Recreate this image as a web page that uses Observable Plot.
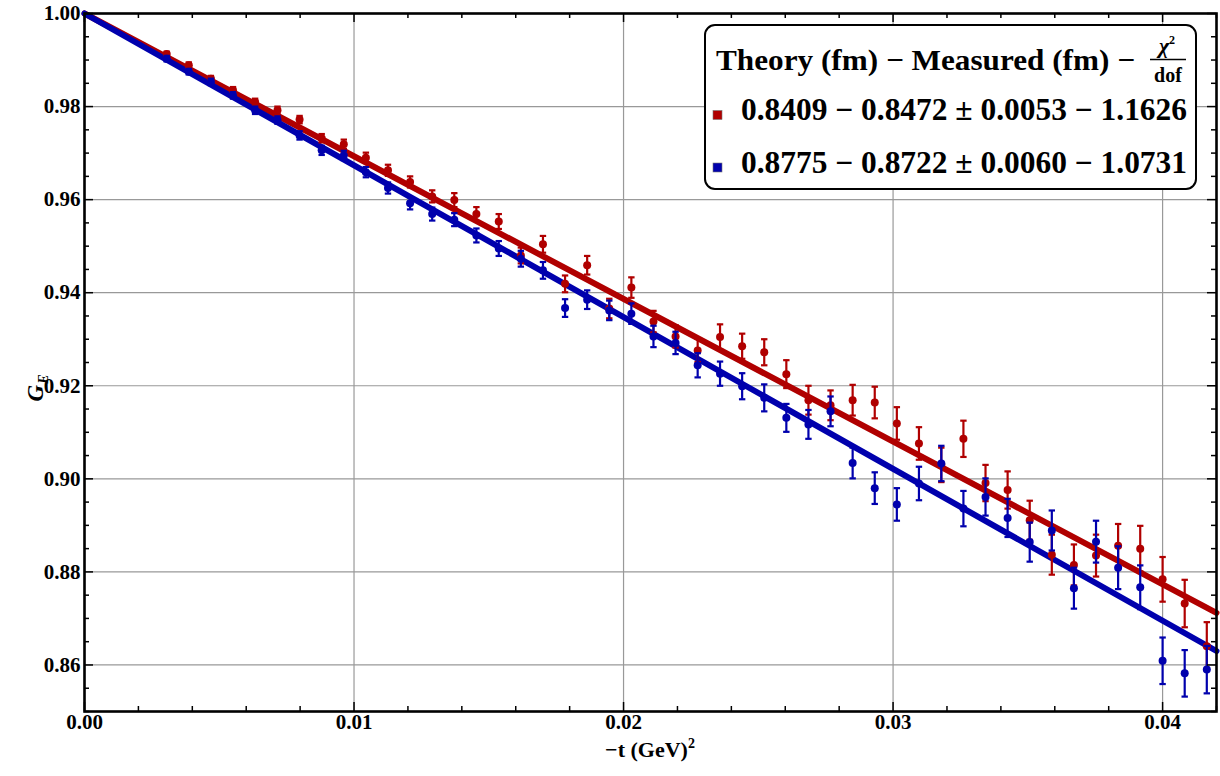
<!DOCTYPE html>
<html><head><meta charset="utf-8">
<script src="https://cdn.jsdelivr.net/npm/d3@7"></script>
<script src="https://cdn.jsdelivr.net/npm/@observablehq/plot@0.6"></script>
<style>
body{margin:0;background:#fff;}
#wrap{position:relative;width:1220px;height:776px;font-family:"Liberation Serif","Times New Roman",serif;font-weight:bold;}
#wrap svg{display:block;}
</style></head><body><div id="wrap"></div>
<script>
// -t (GeV^2)
const tValues = [0.00305,0.00387,0.00469,0.00551,0.00633,0.00716,0.00798,
  0.00880,0.00962,0.01044,0.01126,0.01208,0.01290,0.01372,0.01454,0.01537,0.01619,
  0.01701,0.01783,0.01865,0.01947,0.02029,0.02111,0.02193,0.02275,0.02358,0.02440,
  0.02522,0.02604,0.02686,0.02768,0.02850,0.02932,0.03014,0.03096,0.03179,0.03261,
  0.03343,0.03425,0.03507,0.03589,0.03671,0.03753,0.03835,0.03917,0.04000,0.04082,0.04164];
const redGE = [0.9913,0.9889,0.9860,0.9835,0.9810,0.9792,0.9772,
  0.9732,0.9719,0.9690,0.9663,0.9638,0.9607,0.9599,0.9569,0.9553,0.9480,
  0.9504,0.9419,0.9459,0.9366,0.9411,0.9338,0.9306,0.9276,0.9305,0.9285,
  0.9272,0.9225,0.9169,0.9158,0.9169,0.9164,0.9119,0.9076,0.9030,0.9086,
  0.8991,0.8976,0.8911,0.8837,0.8815,0.8835,0.8856,0.8850,0.8784,0.8732,0.8640];
const redErr = [0.0005,0.0006,0.0006,0.0007,0.0007,0.0008,0.0008,
  0.0009,0.0010,0.0011,0.0012,0.0012,0.0013,0.0015,0.0015,0.0016,0.0017,
  0.0018,0.0018,0.0020,0.0021,0.0022,0.0023,0.0024,0.0025,0.0027,0.0027,
  0.0028,0.0030,0.0031,0.0032,0.0033,0.0034,0.0035,0.0035,0.0037,0.0039,
  0.0039,0.0040,0.0042,0.0043,0.0044,0.0045,0.0047,0.0049,0.0048,0.0051,0.0052];
const blueGE = [0.9903,0.9875,0.9853,0.9824,0.9792,0.9771,0.9738,
  0.9706,0.9695,0.9659,0.9625,0.9592,0.9569,0.9557,0.9523,0.9495,0.9473,
  0.9448,0.9367,0.9385,0.9362,0.9355,0.9306,0.9292,0.9244,0.9226,0.9199,
  0.9174,0.9131,0.9117,0.9145,0.9034,0.8980,0.8945,0.8990,0.9033,0.8936,
  0.8961,0.8916,0.8864,0.8889,0.8765,0.8865,0.8809,0.8767,0.8609,0.8582,0.8590];
const blueErr = [0.0006,0.0006,0.0007,0.0007,0.0008,0.0008,0.0009,
  0.0010,0.0010,0.0011,0.0012,0.0013,0.0014,0.0014,0.0015,0.0016,0.0017,
  0.0018,0.0019,0.0020,0.0021,0.0022,0.0023,0.0024,0.0026,0.0026,0.0028,
  0.0029,0.0030,0.0031,0.0032,0.0033,0.0034,0.0035,0.0036,0.0038,0.0038,
  0.0040,0.0041,0.0042,0.0043,0.0044,0.0045,0.0046,0.0047,0.0050,0.0050,0.0051];
// fit lines (endpoints)
const fitT = [0, 0.042];
const redFit = [1.0, 0.8712];
const blueFit = [1.0, 0.8630];
// ticks
const xMajor = [0, 0.01, 0.02, 0.03, 0.04];
const xMinor = [0.002,0.004,0.006,0.008,0.012,0.014,0.016,0.018,0.022,0.024,0.026,0.028,0.032,0.034,0.036,0.038,0.042];
const yMajor = [0.86, 0.88, 0.90, 0.92, 0.94, 0.96, 0.98, 1.00];
const yMinor = [0.85,0.855,0.865,0.87,0.875,0.885,0.89,0.895,0.905,0.91,0.915,0.925,0.93,0.935,0.945,0.95,0.955,0.965,0.97,0.975,0.985,0.99,0.995];
// legend
const theoryR = ["0.8409", "0.8775"];
const measuredR = ["0.8472", "0.8722"];
const measuredErr = ["0.0053", "0.0060"];
const chi2dof = ["1.1626", "1.0731"];

const RED = "#b00000", BLUE = "#0000ad";
const series = [
  {ge: redGE, err: redErr, color: RED},
  {ge: blueGE, err: blueErr, color: BLUE}
].map(s => ({...s, data: tValues.map((t, i) => ({t, g: s.ge[i], e: s.err[i]}))}));
const fits = [
  {color: RED, data: fitT.map((t, i) => ({t, g: redFit[i]}))},
  {color: BLUE, data: fitT.map((t, i) => ({t, g: blueFit[i]}))}
];

const capSymbol = {draw(ctx, size) { const r = Math.sqrt(size / Math.PI); ctx.moveTo(-r, 0); ctx.lineTo(r, 0); }};

const W = 1220, H = 776, mL = 84, mR = 4, mT = 13, mB = 65;
const innerH = H - mT - mB, innerW = W - mL - mR;

const marks = [
  Plot.gridX(xMajor, {stroke: "#999", strokeOpacity: 1, strokeWidth: 1.2}),
  Plot.gridY(yMajor, {stroke: "#999", strokeOpacity: 1, strokeWidth: 1.2}),
  ...fits.map(f => Plot.line(f.data, {x: "t", y: "g", stroke: f.color, strokeWidth: 6})),
];
for (const s of series) {
  marks.push(
    Plot.ruleX(s.data, {x: "t", y1: d => d.g - d.e, y2: d => d.g + d.e, stroke: s.color, strokeWidth: 2.2}),
    Plot.dot(s.data, {x: "t", y: d => d.g + d.e, symbol: capSymbol, r: 3.2, stroke: s.color, strokeWidth: 2.2, fill: "none"}),
    Plot.dot(s.data, {x: "t", y: d => d.g - d.e, symbol: capSymbol, r: 3.2, stroke: s.color, strokeWidth: 2.2, fill: "none"}),
    Plot.dot(s.data, {x: "t", y: "g", r: 4, fill: s.color, stroke: "none"})
  );
}
marks.push(
  // inward ticks on all four sides
  Plot.tickX(xMajor, {x: d => d, insetTop: innerH - 9, stroke: "black", strokeWidth: 1.5}),
  Plot.tickX(xMinor, {x: d => d, insetTop: innerH - 5, stroke: "black", strokeWidth: 1.5}),
  Plot.tickX(xMajor, {x: d => d, insetBottom: innerH - 9, stroke: "black", strokeWidth: 1.5}),
  Plot.tickX(xMinor, {x: d => d, insetBottom: innerH - 5, stroke: "black", strokeWidth: 1.5}),
  Plot.tickY(yMajor, {y: d => d, insetRight: innerW - 9, stroke: "black", strokeWidth: 1.5}),
  Plot.tickY(yMinor, {y: d => d, insetRight: innerW - 5, stroke: "black", strokeWidth: 1.5}),
  Plot.tickY(yMajor, {y: d => d, insetLeft: innerW - 9, stroke: "black", strokeWidth: 1.5}),
  Plot.tickY(yMinor, {y: d => d, insetLeft: innerW - 5, stroke: "black", strokeWidth: 1.5}),
  Plot.frame({stroke: "black", strokeWidth: 2.6}),
  Plot.axisX(xMajor, {tickSize: 0, tickPadding: 3, tickFormat: d3.format(".2f"), label: null, fill: "black", fontSize: 21}),
  Plot.axisY(yMajor, {tickSize: 0, tickPadding: 4, tickFormat: d3.format(".2f"), label: null, fill: "black", fontSize: 21})
);

const chart = Plot.plot({
  width: W, height: H,
  marginLeft: mL, marginRight: mR, marginTop: mT, marginBottom: mB,
  x: {domain: [0, 0.042]},
  y: {domain: [0.85, 1.0]},
  style: {fontFamily: '"Liberation Serif", "Times New Roman", serif', fontWeight: "bold", fontSize: "21px", background: "#fff", color: "black", overflow: "visible"},
  marks
});
const wrap = document.getElementById("wrap");
wrap.appendChild(chart);

// overlay: axis labels and legend
const ov = d3.select(wrap).append("svg")
  .attr("width", W).attr("height", H)
  .style("position", "absolute").style("left", 0).style("top", 0)
  .style("font-family", '"Liberation Serif", "Times New Roman", serif').style("font-weight", "bold");

const xl = ov.append("text").attr("x", 650).attr("y", 757).attr("text-anchor", "middle").attr("font-size", 22);
xl.append("tspan").text("\u2212t (GeV)");
xl.append("tspan").attr("font-size", 14).attr("dy", -9).text("2");

const yl = ov.append("text").attr("transform", "translate(43,388) rotate(-90)").attr("text-anchor", "middle").attr("font-size", 23);
yl.append("tspan").attr("font-style", "italic").text("G");
yl.append("tspan").attr("font-size", 14).attr("font-style", "italic").attr("dx", 1).attr("dy", 5).text("E");

ov.append("rect").attr("x", 705).attr("y", 25).attr("width", 491).attr("height", 164).attr("rx", 10)
  .attr("fill", "#fff").attr("stroke", "#000").attr("stroke-width", 2);
ov.append("text").attr("x", 716).attr("y", 70).attr("font-size", 30)
  .attr("textLength", 419).attr("lengthAdjust", "spacingAndGlyphs")
  .text("Theory (fm) \u2212 Measured (fm) \u2212");
const chi = ov.append("text").attr("x", 1167).attr("y", 53).attr("text-anchor", "middle").attr("font-size", 22);
chi.append("tspan").attr("font-style", "italic").text("\u03c7");
chi.append("tspan").attr("font-size", 12).attr("dy", -9).text("2");
ov.append("line").attr("x1", 1150).attr("x2", 1186).attr("y1", 59.5).attr("y2", 59.5).attr("stroke", "#000").attr("stroke-width", 1.6);
ov.append("text").attr("x", 1168).attr("y", 82).attr("text-anchor", "middle").attr("font-size", 20).text("dof");

const rowY = [120, 172.5];
const rowColor = [RED, BLUE];
theoryR.forEach((th, i) => {
  ov.append("rect").attr("x", 713).attr("y", rowY[i] - 9.5).attr("width", 9).attr("height", 9)
    .attr("fill", rowColor[i]).attr("stroke", "#777").attr("stroke-width", 0.6);
  ov.append("text").attr("x", 741).attr("y", rowY[i]).attr("font-size", 31)
    .attr("textLength", 446).attr("lengthAdjust", "spacingAndGlyphs")
    .text(`${th} \u2212 ${measuredR[i]} \u00b1 ${measuredErr[i]} \u2212 ${chi2dof[i]}`);
});
</script></body></html>
